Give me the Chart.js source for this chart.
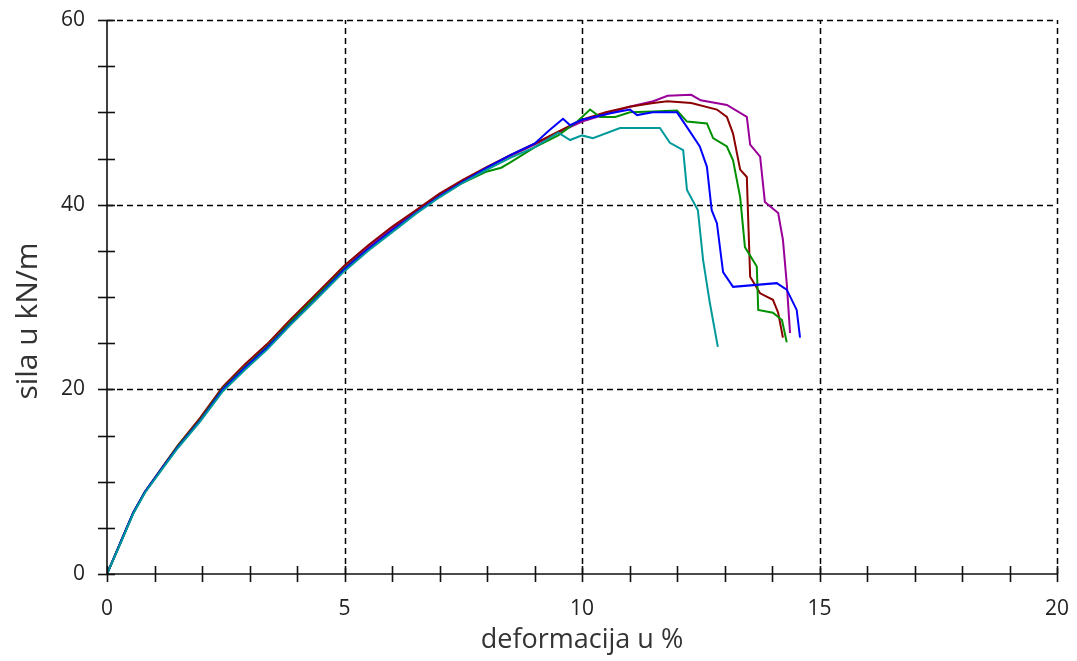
<!DOCTYPE html>
<html>
<head>
<meta charset="utf-8">
<script src="https://cdn.jsdelivr.net/npm/chart.js@4.4.1/dist/chart.umd.min.js"></script>
<style>
  html, body { margin: 0; padding: 0; background: #fff; }
  #wrap { width: 1077px; height: 661px; }
</style>
</head>
<body>
<div id="wrap"><canvas id="line-chart"></canvas></div>
<script>
// deformation (%) and force (kN/m), one pair of arrays per specimen
var tealX = [0, 0.3, 0.55, 0.8, 1.18, 1.5, 1.96, 2.44, 2.9, 3.37, 3.85, 4.34, 5, 5.5, 6, 6.5, 7, 7.5, 8, 8.5, 9, 9.5, 9.75, 10, 10.23, 10.8, 11.64, 11.85, 12.13, 12.21, 12.44, 12.55, 12.69, 12.86];
var tealY = [0, 3.5, 6.5, 8.8, 11.5, 13.7, 16.5, 19.8, 22.1, 24.3, 26.9, 29.4, 32.8, 35.0, 37.0, 39.0, 40.8, 42.4, 43.8, 45.1, 46.2, 47.8, 47.0, 47.5, 47.2, 48.3, 48.3, 46.7, 45.9, 41.6, 39.4, 34.0, 29.4, 24.6];

var blueX = [0, 0.3, 0.55, 0.8, 1.18, 1.5, 1.96, 2.44, 2.9, 3.37, 3.85, 4.34, 5, 5.5, 6, 6.5, 7, 7.5, 8, 8.5, 9, 9.3, 9.6, 9.75, 10, 10.6, 11.01, 11.16, 11.49, 12.0, 12.21, 12.48, 12.63, 12.73, 12.84, 12.97, 13.18, 14.1, 14.31, 14.52, 14.59];
var blueY = [0, 3.6, 6.6, 8.9, 11.6, 13.8, 16.6, 20.0, 22.3, 24.5, 27.0, 29.5, 33.0, 35.2, 37.2, 39.1, 40.9, 42.5, 44.0, 45.4, 46.6, 48.0, 49.3, 48.6, 49.2, 49.9, 50.3, 49.7, 50.0, 50.0, 48.4, 46.3, 44.1, 39.4, 38.0, 32.7, 31.1, 31.5, 30.8, 28.6, 25.6];

var greenX = [0, 0.3, 0.55, 0.8, 1.18, 1.5, 1.96, 2.44, 2.9, 3.37, 3.85, 4.34, 5, 5.5, 6, 6.5, 7, 7.5, 8, 8.3, 8.5, 9, 9.5, 9.9, 10.17, 10.38, 10.7, 11.01, 11.5, 12.0, 12.21, 12.63, 12.76, 13.05, 13.18, 13.33, 13.43, 13.68, 13.71, 14.02, 14.21, 14.31];
var greenY = [0, 3.6, 6.6, 8.9, 11.6, 13.9, 16.7, 20.1, 22.4, 24.6, 27.2, 29.7, 33.1, 35.2, 37.2, 39.1, 40.9, 42.4, 43.6, 44.0, 44.6, 46.2, 47.5, 49.0, 50.3, 49.5, 49.5, 50.0, 50.1, 50.2, 49.0, 48.8, 47.2, 46.3, 44.8, 40.8, 35.4, 33.3, 28.6, 28.3, 27.5, 25.1];

var redX = [0, 0.3, 0.55, 0.8, 1.18, 1.5, 1.96, 2.44, 2.9, 3.37, 3.85, 4.34, 5, 5.5, 6, 6.5, 7, 7.5, 8, 8.5, 9, 9.5, 10, 10.5, 11, 11.5, 11.8, 12.3, 12.84, 13.05, 13.18, 13.33, 13.47, 13.49, 13.54, 13.75, 14.02, 14.13, 14.23];
var redY = [0, 3.6, 6.6, 8.9, 11.7, 14.0, 16.9, 20.3, 22.7, 24.9, 27.5, 30.0, 33.4, 35.6, 37.6, 39.4, 41.2, 42.7, 44.1, 45.4, 46.6, 47.9, 49.2, 50.0, 50.6, 51.0, 51.2, 51.0, 50.3, 49.5, 47.7, 43.8, 43.0, 39.8, 32.2, 30.4, 29.7, 28.3, 25.6];

var magentaX = [0, 0.3, 0.55, 0.8, 1.18, 1.5, 1.96, 2.44, 2.9, 3.37, 3.85, 4.34, 5, 5.5, 6, 6.5, 7, 7.5, 8, 8.5, 9, 9.5, 10, 10.5, 11, 11.5, 11.8, 12.3, 12.5, 13.05, 13.47, 13.54, 13.75, 13.85, 14.13, 14.23, 14.31, 14.38];
var magentaY = [0, 3.6, 6.6, 8.9, 11.6, 13.9, 16.7, 20.1, 22.4, 24.7, 27.3, 29.8, 33.2, 35.4, 37.4, 39.2, 41.0, 42.6, 44.0, 45.3, 46.5, 47.8, 49.0, 49.8, 50.6, 51.2, 51.8, 51.9, 51.3, 50.8, 49.5, 46.5, 45.2, 40.3, 39.1, 36.2, 31.5, 26.1];

var xTicks = [0, 5, 10, 15, 20];
var yTicks = [0, 20, 40, 60];

function pts(xs, ys) {
    return xs.map(function(x, i) { return {x: x, y: ys[i]}; });
}

function line(data, color) {
    return {
        data: data,
        borderColor: color,
        backgroundColor: color,
        borderWidth: 2,
        pointRadius: 0,
        showLine: true,
        tension: 0,
        fill: false
    };
}

// dashed grid at major values, ticks that cross the axes, y title
var gridAndTicks = {
    id: 'gridAndTicks',
    beforeDatasetsDraw: function(chart) {
        var ctx = chart.ctx, xs = chart.scales.x, ys = chart.scales.y;
        var a = chart.chartArea;
        ctx.save();
        ctx.strokeStyle = '#000';
        ctx.lineWidth = 1.5;
        ctx.setLineDash([6, 4]);
        xTicks.forEach(function(v) {
            if (v === 0) return;
            var px = Math.round(xs.getPixelForValue(v)) + 0.5;
            ctx.beginPath(); ctx.moveTo(px, a.bottom); ctx.lineTo(px, a.top); ctx.stroke();
        });
        yTicks.forEach(function(v) {
            if (v === 0) return;
            var py = Math.round(ys.getPixelForValue(v)) + 0.5;
            ctx.beginPath(); ctx.moveTo(a.left, py); ctx.lineTo(a.right, py); ctx.stroke();
        });
        ctx.restore();
    },
    afterDraw: function(chart) {
        var ctx = chart.ctx, xs = chart.scales.x, ys = chart.scales.y;
        var a = chart.chartArea;
        ctx.save();
        ctx.strokeStyle = '#111';
        ctx.lineWidth = 1.6;
        ctx.beginPath();
        ctx.moveTo(a.left, a.top); ctx.lineTo(a.left, a.bottom); ctx.lineTo(a.right, a.bottom);
        ctx.stroke();
        for (var i = 0; i <= 20; i++) {
            var px = Math.round(xs.getPixelForValue(i)) + 0.5;
            ctx.beginPath(); ctx.moveTo(px, a.bottom - 8); ctx.lineTo(px, a.bottom + 8); ctx.stroke();
        }
        for (var j = 0; j <= 60; j += 5) {
            var py = Math.round(ys.getPixelForValue(j)) + 0.5;
            ctx.beginPath(); ctx.moveTo(a.left - 9, py); ctx.lineTo(a.left + 8, py); ctx.stroke();
        }
        // y axis title, sits a bit below the middle like the original
        ctx.translate(28, 321);
        ctx.rotate(-Math.PI / 2);
        ctx.fillStyle = '#333';
        ctx.font = '30px "Open Sans"';
        ctx.textAlign = 'center';
        ctx.textBaseline = 'middle';
        ctx.fillText('sila u kN/m', 0, 0);
        ctx.restore();
    }
};

new Chart(document.getElementById('line-chart'), {
    type: 'scatter',
    data: {
        datasets: [
            line(pts(tealX, tealY), '#009999'),
            line(pts(blueX, blueY), '#0000ff'),
            line(pts(greenX, greenY), '#009000'),
            line(pts(redX, redY), '#8b0000'),
            line(pts(magentaX, magentaY), '#990099')
        ]
    },
    options: {
        responsive: true,
        maintainAspectRatio: false,
        animation: false,
        layout: { padding: { top: 20, right: 20, left: 0, bottom: 0 } },
        plugins: { legend: { display: false }, tooltip: { enabled: false } },
        scales: {
            x: {
                type: 'linear', min: 0, max: 20,
                grid: { display: false },
                border: { display: false },
                ticks: {
                    stepSize: 5, color: '#222', padding: 14,
                    font: { family: 'Open Sans', size: 21 }
                },
                title: {
                    display: true, text: 'deformacija u %', color: '#333',
                    font: { family: 'Open Sans', size: 27 }, padding: { top: 0 }
                },
                afterFit: function(s) {
                    s.height = 87;
                    s.paddingLeft = 0; s.paddingRight = 0;
                }
            },
            y: {
                type: 'linear', min: 0, max: 60,
                grid: { display: false },
                border: { display: false },
                ticks: {
                    stepSize: 20, color: '#222', padding: 14,
                    font: { family: 'Open Sans', size: 21 }
                },
                afterFit: function(s) {
                    s.width = 107;
                    s.paddingTop = 0; s.paddingBottom = 0;
                }
            }
        }
    },
    plugins: [gridAndTicks]
});
</script>
</body>
</html>
